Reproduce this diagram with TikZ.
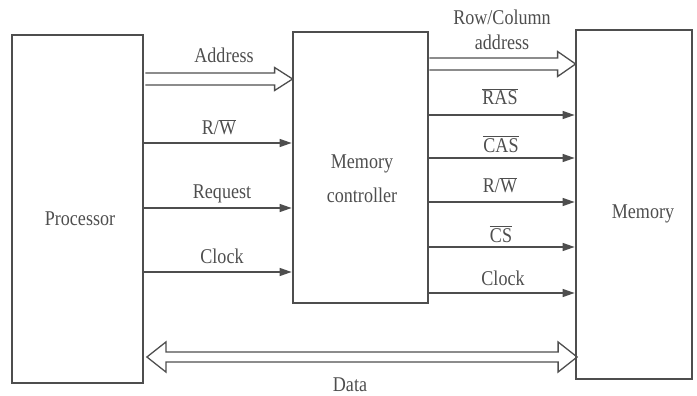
\documentclass[tikz,border=0pt]{standalone}
\usepackage{fontspec}
\setmainfont{Liberation Serif}[FakeStretch=0.86]
\usetikzlibrary{arrows.meta,calc}
\definecolor{ink}{RGB}{78,78,78}
\begin{document}
\begin{tikzpicture}[x=1pt,y=-1pt,
  box/.style={draw=ink,line width=2.8pt,inner sep=0pt},
  txt/.style={text=ink,font=\fontsize{21}{25}\selectfont,anchor=base,inner sep=0pt,align=center},
  sig/.style={draw=ink,line width=1.3pt,-{Triangle[length=12pt,width=8pt]}},
  dbl/.style={draw=ink,line width=1.3pt,line join=miter}]
\useasboundingbox (0,0) rectangle (697,396);
% boxes
\node[box,minimum width=131pt,minimum height=348pt] (proc) at (77.5,209) {};
\node[box,minimum width=135pt,minimum height=271pt] (ctrl) at (360.5,167.5) {};
\node[box,minimum width=116pt,minimum height=349pt] (mem) at (634,204.5) {};
% box texts
\node[txt] (ptext) at (80,225) {Processor};
\node[txt] (mtext) at (643,218) {Memory};
\node[txt,font=\fontsize{21}{34}\selectfont] (ctext) at (362,202) {Memory\\controller};
% level coordinates
\coordinate (yaddr) at (0,79);
\coordinate (yrw) at (0,143);
\coordinate (yreq) at (0,208);
\coordinate (yclk) at (0,272);
\coordinate (yrc) at (0,64);
\coordinate (yras) at (0,115);
\coordinate (ycas) at (0,158);
\coordinate (yrw2) at (0,202);
\coordinate (ycs) at (0,247);
\coordinate (yclk2) at (0,293);
\coordinate (ydata) at (0,357);
% left labels
\node[txt] (laddr) at (224,63) {Address};
\node[txt] (lrw) at (219,135) {R/$\overline{\mbox{W}}$};
\node[txt] (lreq) at (222,198) {Request};
\node[txt] (lclk) at (222,263) {Clock};
% right labels
\node[txt] (lrc) at (502,50) {Row/Column\\address};
\node[txt] (lras) at (500,105) {$\overline{\mbox{RAS}}$};
\node[txt] (lcas) at (501,152) {$\overline{\mbox{CAS}}$};
\node[txt] (lrw2) at (500,193) {R/$\overline{\mbox{W}}$};
\node[txt] (lcs) at (501,242) {$\overline{\mbox{CS}}$};
\node[txt] (lclk2) at (503,285) {Clock};
\node[txt] (ldata) at (350,391) {Data};
% left single signals
\draw[sig] (proc.east |- yrw) -- (ctrl.west |- yrw);
\draw[sig] (proc.east |- yreq) -- (ctrl.west |- yreq);
\draw[sig] (proc.east |- yclk) -- (ctrl.west |- yclk);
% right single signals
\draw[sig] (ctrl.east |- yras) -- (mem.west |- yras);
\draw[sig] (ctrl.east |- ycas) -- (mem.west |- ycas);
\draw[sig] (ctrl.east |- yrw2) -- (mem.west |- yrw2);
\draw[sig] (ctrl.east |- ycs) -- (mem.west |- ycs);
\draw[sig] (ctrl.east |- yclk2) -- (mem.west |- yclk2);
% address bus
\coordinate (at) at ($(proc.east |- yaddr)+(1,0)$);
\coordinate (ap) at (ctrl.west |- yaddr);
\draw[dbl] ($(at)+(0,-6)$) -- ($(ap)+(-17,-6)$) -- ($(ap)+(-17,-11.5)$) -- ($(ap)+(1,0)$)
  -- ($(ap)+(-17,11.5)$) -- ($(ap)+(-17,6)$) -- ($(at)+(0,6)$);
% row/column bus
\coordinate (rt) at (ctrl.east |- yrc);
\coordinate (rp) at (mem.west |- yrc);
\draw[dbl] ($(rt)+(0,-6)$) -- ($(rp)+(-17,-6)$) -- ($(rp)+(-17,-12.5)$) -- ($(rp)+(1,0)$)
  -- ($(rp)+(-17,12.5)$) -- ($(rp)+(-17,6)$) -- ($(rt)+(0,6)$);
% data bus
\coordinate (dl) at ($(proc.east |- ydata)+(2.5,0)$);
\coordinate (dr) at ($(mem.west |- ydata)+(2.5,0)$);
\draw[dbl] ($(dl)+(19,-5)$) -- ($(dr)+(-19,-5)$) -- ($(dr)+(-19,-15)$) -- (dr)
  -- ($(dr)+(-19,15)$) -- ($(dr)+(-19,5)$) -- ($(dl)+(19,5)$) -- ($(dl)+(19,15)$)
  -- (dl) -- ($(dl)+(19,-15)$) -- cycle;
\end{tikzpicture}
\end{document}
